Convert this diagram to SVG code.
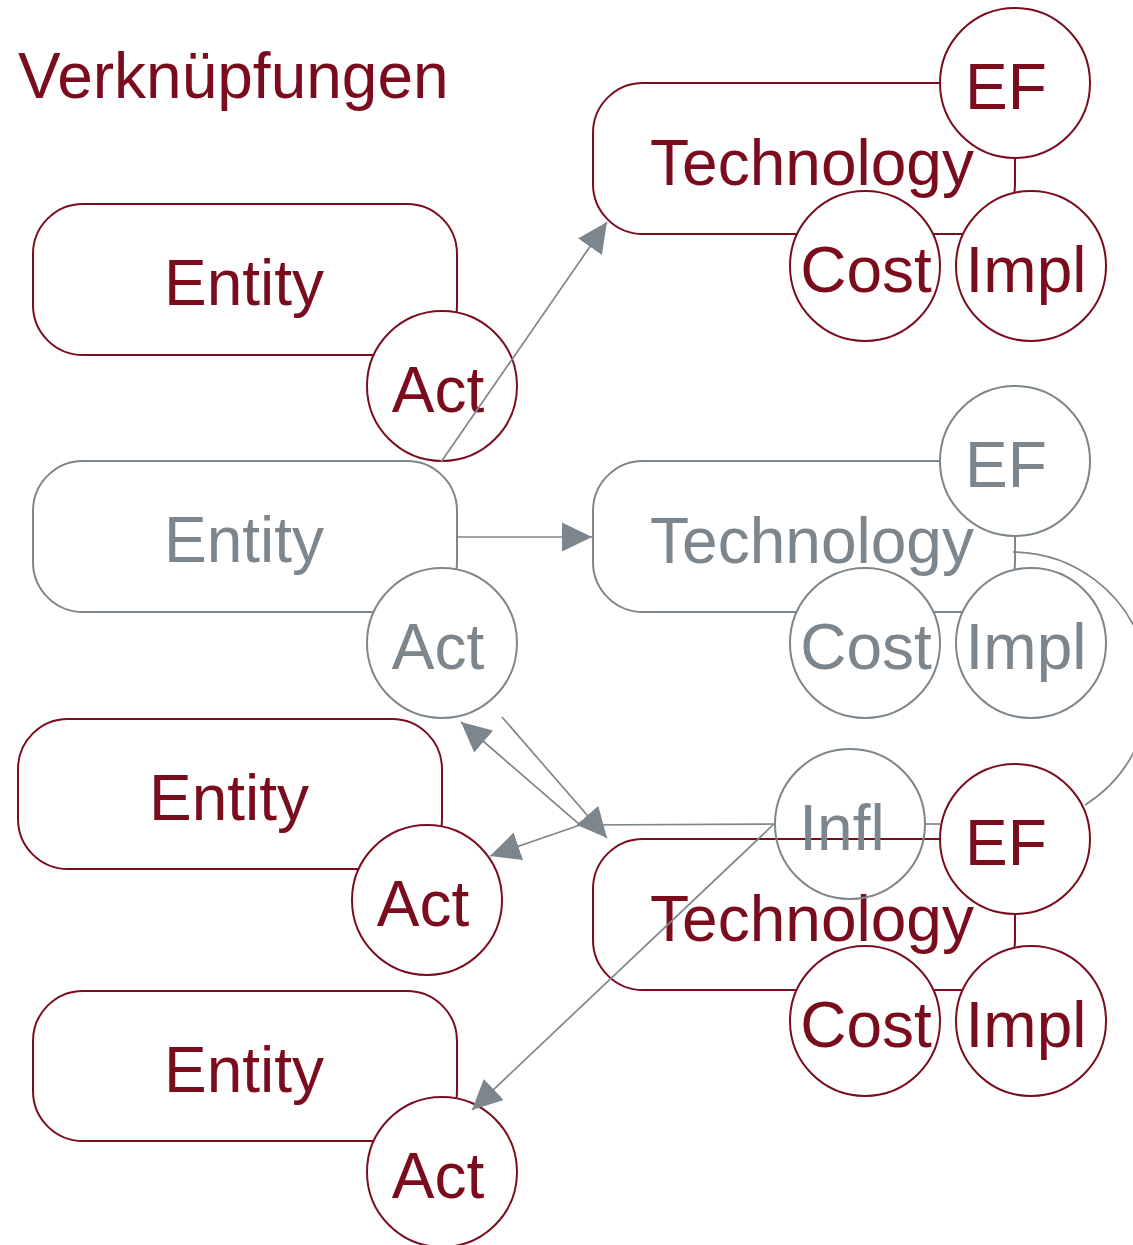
<svg xmlns="http://www.w3.org/2000/svg" width="1133" height="1245" viewBox="0 0 1133 1245">
<style>
.rr{fill:none;stroke:#7B0C1D;stroke-width:2}
.rc{fill:#fff;stroke:#7B0C1D;stroke-width:2}
.gr{fill:none;stroke:#7D868C;stroke-width:2}
.gc{fill:#fff;stroke:#7D868C;stroke-width:2}
.gn{fill:none;stroke:#7D868C;stroke-width:2}
text{font-family:"Liberation Sans",Arial,sans-serif;font-size:64px;text-anchor:middle}
.tr{fill:#7B0C1D}
.tg{fill:#7D868C}
.e{fill:none;stroke:#7D868C;stroke-width:1.7}
</style>
<defs>
<marker id="ah" markerUnits="userSpaceOnUse" markerWidth="30" markerHeight="30" refX="30" refY="15" orient="auto" viewBox="0 0 30 30">
<path d="M0,0.5 L30,15 L0,29.5 z" fill="#7D868C"/>
</marker>
</defs>
<rect width="1133" height="1245" fill="#fff"/>
<text x="18" y="98" class="tr" style="text-anchor:start">Verknüpfungen</text>

<g id="entity1">
<rect class="rr" x="33" y="204" width="424" height="151" rx="50"/>
<circle class="rc" cx="442" cy="386" r="75"/>
<text class="tr" x="244" y="305">Entity</text>
<text class="tr" x="438" y="412">Act</text>
</g>
<g id="entity2">
<rect class="gr" x="33" y="461" width="424" height="151" rx="50"/>
<circle class="gc" cx="442" cy="643" r="75"/>
<text class="tg" x="244" y="562">Entity</text>
<text class="tg" x="438" y="669">Act</text>
</g>
<g id="entity3">
<rect class="rr" x="18" y="719" width="424" height="150" rx="50"/>
<circle class="rc" cx="427" cy="900" r="75"/>
<text class="tr" x="229" y="820">Entity</text>
<text class="tr" x="423" y="926">Act</text>
</g>
<g id="entity4">
<rect class="rr" x="33" y="991" width="424" height="150" rx="50"/>
<circle class="rc" cx="442" cy="1172" r="75"/>
<text class="tr" x="244" y="1092">Entity</text>
<text class="tr" x="438" y="1198">Act</text>
</g>

<g id="technology1">
<rect class="rr" x="593" y="83" width="422" height="151" rx="50"/>
<circle class="rc" cx="1015" cy="83" r="75"/>
<circle class="rc" cx="865" cy="266" r="75"/>
<circle class="rc" cx="1031" cy="266" r="75"/>
<text class="tr" x="812" y="185">Technology</text>
<text class="tr" x="1006" y="109">EF</text>
<text class="tr" x="866" y="292">Cost</text>
<text class="tr" x="1026" y="292">Impl</text>
</g>
<g id="technology2">
<rect class="gr" x="593" y="461" width="422" height="151" rx="50"/>
<circle class="gc" cx="1015" cy="461" r="75"/>
<circle class="gc" cx="865" cy="643" r="75"/>
<circle class="gc" cx="1031" cy="643" r="75"/>
<text class="tg" x="812" y="563">Technology</text>
<text class="tg" x="1006" y="487">EF</text>
<text class="tg" x="866" y="669">Cost</text>
<text class="tg" x="1026" y="669">Impl</text>
</g>
<g id="technology3">
<rect class="rr" x="593" y="839" width="422" height="151" rx="50"/>
<circle class="rc" cx="1015" cy="839" r="75"/>
<circle class="rc" cx="865" cy="1021" r="75"/>
<circle class="rc" cx="1031" cy="1021" r="75"/>
<text class="tr" x="812" y="941">Technology</text>
<text class="tr" x="1006" y="865">EF</text>
<text class="tr" x="866" y="1047">Cost</text>
<text class="tr" x="1026" y="1047">Impl</text>
</g>
<g id="infl">
<circle class="gn" cx="850" cy="824" r="75"/>
<text class="tg" x="842" y="850">Infl</text>
</g>

<g id="connectors">
<path class="e" d="M441,462 L607,222" marker-end="url(#ah)"/>
<path class="e" d="M457,537 L592,537" marker-end="url(#ah)"/>
<path class="e" d="M1013,552 A137,137 0 0 1 1085,805"/>
<path class="e" d="M502,717 L607,838" marker-end="url(#ah)"/>
<path class="e" d="M775,824 L580,825 L461,722" marker-end="url(#ah)"/>
<path class="e" d="M580,825 L490,856" marker-end="url(#ah)"/>
<path class="e" d="M774,824 L472,1110" marker-end="url(#ah)"/>
<path class="e" d="M925,824 L940,824"/>
</g>
</svg>
